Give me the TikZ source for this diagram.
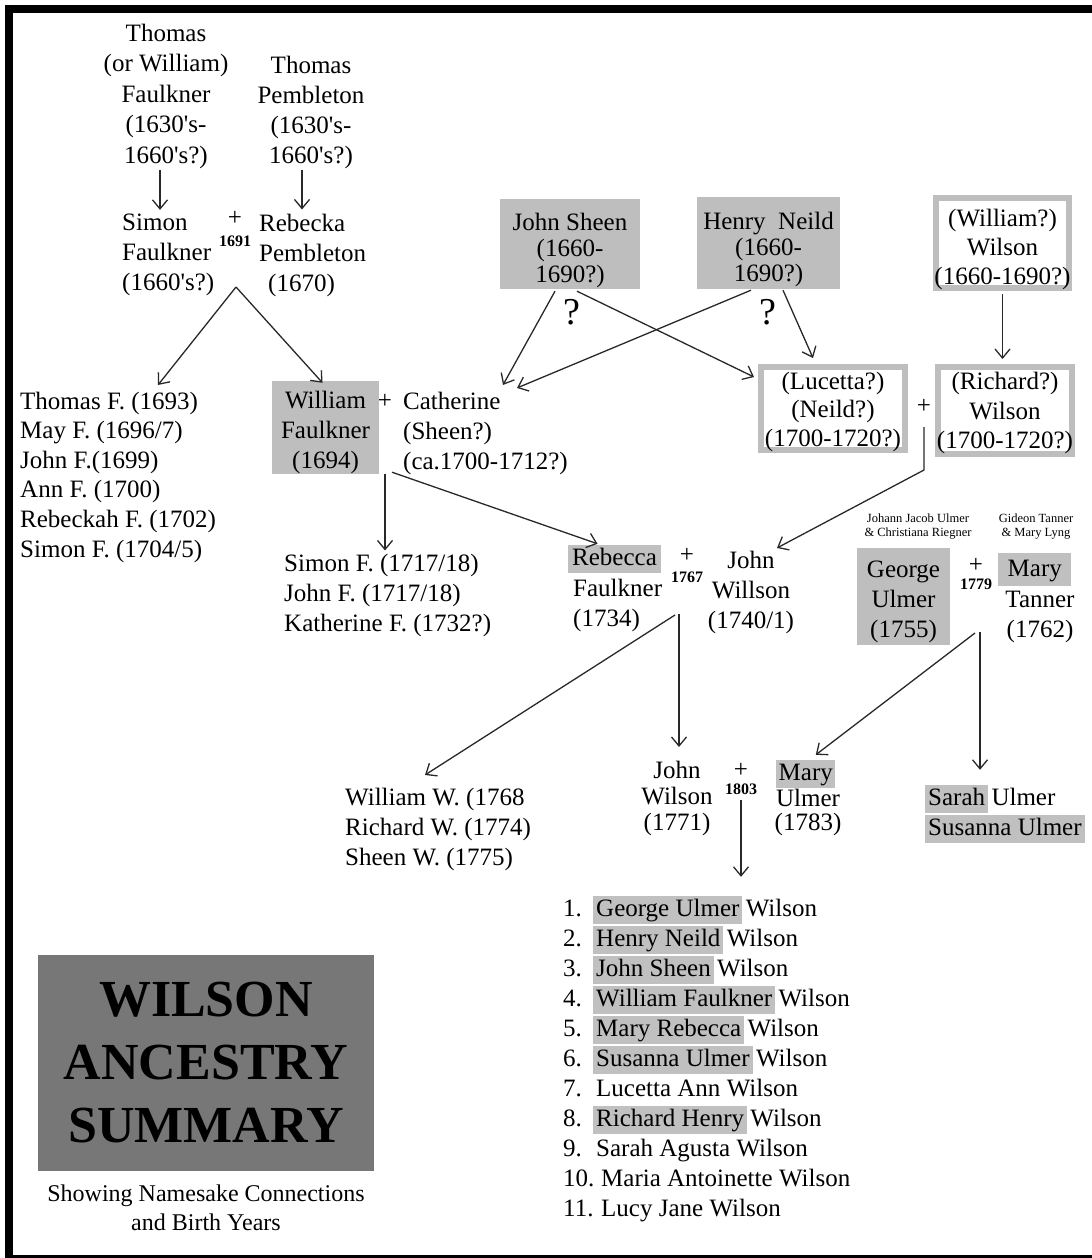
\documentclass[tikz,border=0pt]{standalone}
\usepackage{fontspec}
\setmainfont{Liberation Serif}
\usetikzlibrary{arrows.meta,calc}
\newcommand\aps{\textquotesingle}
\definecolor{boxgray}{RGB}{190,190,190}
\definecolor{hlgray}{RGB}{192,192,192}
\definecolor{titlegray}{RGB}{119,119,119}
\definecolor{linec}{RGB}{40,40,40}
\begin{document}
\begin{tikzpicture}[x=1pt,y=-1pt,
 txt/.style={font=\fontsize{25}{30}\selectfont, inner sep=1pt, align=center},
 pl/.style={font=\fontsize{25}{25}\selectfont, inner sep=0pt},
 yr/.style={font=\bfseries\fontsize{16}{16}\selectfont, inner sep=0pt},
 sm/.style={font=\fontsize{12.5}{14}\selectfont, inner sep=0pt, align=center},
 gbox/.style={fill=boxgray, inner sep=0pt},
 obox/.style={draw=boxgray, line width=6pt, fill=white, inner sep=0pt},
 hlf/.style={fill=hlgray},
 nof/.style={},
 lname/.style={font=\fontsize{25}{30}\selectfont, inner xsep=3pt, inner ysep=2pt, text height=18pt, text depth=5.5pt, anchor=base west},
 ar/.style={draw=linec, line width=1.3pt, -{Straight Barb[length=9pt,width=15pt]}},
 qm/.style={font=\fontsize{38}{38}\selectfont, inner sep=0pt}]
\useasboundingbox (0,0) rectangle (1092,1258);
% frame
\draw[line width=8pt] (9,1258) -- (9,9) -- (1092,9);
\draw[line width=3pt] (5,1256.5) -- (1092,1256.5);

% generation 1
\node[txt, font=\fontsize{25}{30.5}\selectfont] (tf) at (166,96) {Thomas\\(or William)\\Faulkner\\(1630\aps s-\\1660\aps s?)};
\node[txt, font=\fontsize{25}{30}\selectfont] (tp) at (311,112) {Thomas\\Pembleton\\(1630\aps s-\\1660\aps s?)};
\node[txt, align=left, anchor=west] (sf) at (121,255) {Simon\\Faulkner\\(1660\aps s?)};
\node[pl] (p1) at (235,218) {+};
\node[yr] (y1) at (235,241) {1691};
\node[txt, align=left, anchor=west] (rp) at (258,255) {Rebecka\\Pembleton\\\hspace*{9pt}(1670)};
\coordinate (m1) at (236,287);

% generation 2
\node[txt, font=\fontsize{25}{29.6}\selectfont, align=left, anchor=west] (lf) at (19,477) {Thomas F. (1693)\\May F. (1696/7)\\John F.(1699)\\Ann F. (1700)\\Rebeckah F. (1702)\\Simon F. (1704/5)};
\node[gbox, minimum width=107pt, minimum height=93pt] (wf) at (325.5,427.5) {};
\node[txt] (wft) at (325.5,432.5) {William\\Faulkner\\(1694)};
\node[pl] (p2) at (385,401) {+};
\node[txt, align=left, anchor=west] (ct) at (402,433) {Catherine\\(Sheen?)\\(ca.1700-1712?)};
\node[txt, align=left, anchor=west] (sf2) at (283,595) {Simon F. (1717/18)\\John F. (1717/18)\\Katherine F. (1732?)};
\coordinate (m2) at (p2 |- wf.south);

% Sheen / Neild / Wilson
\node[gbox, minimum width=140pt, minimum height=90pt] (js) at (570,244) {};
\node[txt, font=\fontsize{25}{26}\selectfont] (jst) at (570,250) {John Sheen\\(1660-\\1690?)};
\node[gbox, minimum width=143pt, minimum height=92pt] (hn) at (768.5,243) {};
\node[txt, font=\fontsize{25}{26}\selectfont] (hnt) at (768.5,249) {Henry\ \ Neild\\(1660-\\1690?)};
\node[qm] (q1) at (572,312) {?};
\node[qm] (q2) at (768,312) {?};
\node[obox, minimum width=133pt, minimum height=90pt] (ww) at (1002.5,243) {};
\node[txt, font=\fontsize{25}{29}\selectfont] (wwt) at (1002.5,249.5) {(William?)\\Wilson\\(1660-1690?)};
\node[obox, minimum width=144pt, minimum height=83pt] (ln) at (833,408.5) {};
\node[txt, font=\fontsize{25}{28.5}\selectfont] (lnt) at (833,411.5) {(Lucetta?)\\(Neild?)\\(1700-1720?)};
\node[obox, minimum width=134pt, minimum height=87pt] (rw) at (1005,410.5) {};
\node[txt, font=\fontsize{25}{29.5}\selectfont] (rwt) at (1005,413) {(Richard?)\\Wilson\\(1700-1720?)};
\node[pl] (p3) at (924,406) {+};
\coordinate (m3) at ($(p3)+(0,21)$);
\coordinate (b3) at ($(p3)+(0,64)$);

% generation 3
\node[lname, hlf, inner xsep=4pt] (rfh) at (568,565) {Rebecca};
\node[txt, align=left, anchor=west] (rf) at (572,605) {Faulkner\\(1734)};
\node[pl] (p4) at (687,555) {+};
\node[yr] (y4) at (687,577) {1767};
\node[txt] (jw) at (751,592) {John\\Willson\\(1740/1)};
\coordinate (m4) at ($(p4)+(-10,60)$);

\node[sm] (ju) at (918,527) {Johann Jacob Ulmer\\\& Christiana Riegner};
\node[sm] (gt) at (1036,527) {Gideon Tanner\\\& Mary Lyng};
\node[gbox, minimum width=93pt, minimum height=97pt] (gu) at (903.5,596.5) {};
\node[txt] (gut) at (903.5,601.5) {George\\Ulmer\\(1755)};
\node[pl] (p5) at (976,565) {+};
\node[yr] (y5) at (976,584) {1779};
\node[lname, hlf, inner xsep=9.5pt, inner ysep=4.75pt] (mth) at (998,576) {Mary};
\node[txt] (mt) at (1040,617) {Tanner\\(1762)};
\coordinate (m5) at ($(p5)+(2,67)$);

% generation 4
\node[txt, align=left, anchor=west] (wl) at (344,829) {William W. (1768\\Richard W. (1774)\\Sheen W. (1775)};
\node[txt, font=\fontsize{25}{26}\selectfont] (jw2) at (677,798) {John\\Wilson\\(1771)};
\node[pl] (p6) at (741,770) {+};
\node[yr] (y6) at (741,789) {1803};
\node[lname, hlf, inner xsep=2.5pt] (mu) at (776,780) {Mary};
\node[txt, font=\fontsize{25}{24}\selectfont] (mu2) at (808,812) {Ulmer\\(1783)};
\coordinate (m6) at ($(p6)+(0,30)$);
\node[lname, hlf] (sh) at (925,805) {Sarah};
\node[lname, inner xsep=0pt] (sh2) at ($(sh.base east)+(3,0)$) {Ulmer};
\node[lname, hlf] (su) at (925,835) {Susanna Ulmer};

% children list
\foreach \i/\nm/\st in {1/George Ulmer/hlf,2/Henry Neild/hlf,3/John Sheen/hlf,4/William Faulkner/hlf,5/Mary Rebecca/hlf,6/Susanna Ulmer/hlf,7/Lucetta Ann/nof,8/Richard Henry/hlf,9/Sarah Agusta/nof,10/Maria Antoinette/nof,11/Lucy Jane/nof}{
  \pgfmathsetmacro\yy{916+30*(\i-1)}
  \pgfmathsetmacro\xx{\i>9 ? 598 : 593}
  \node[lname, inner xsep=0pt] (n\i) at (563,\yy) {\i.};
  \node[lname, \st] (h\i) at (\xx,\yy) {\nm};
  \node[lname, inner xsep=0pt] (w\i) at ($(h\i.base east)+(3,0)$) {Wilson};
}

% title
\node[fill=titlegray, minimum width=336pt, minimum height=216pt, font=\bfseries\fontsize{52}{63}\selectfont, align=center, inner sep=0pt] (tt) at (206,1063) {WILSON\\ANCESTRY\\SUMMARY};
\node[txt, font=\fontsize{24}{29}\selectfont] (st) at (206,1208) {Showing Namesake Connections\\and Birth Years};

% connectors
\draw[ar] ($(tf.south)+(-6,0)$) -- ($(tf.south |- sf.north)+(-6,-3)$);
\draw[ar] ($(tp.south)+(-9,0)$) -- ($(tp.south |- rp.north)+(-9,-3)$);
\draw[ar] (m1) -- ($(lf.north west)+(139,-5.5)$);
\draw[ar] (m1) -- ($(wf.north)+(-3,2)$);
\draw[ar] (m2) -- ($(m2 |- sf2.north)+(0,-2)$);
\draw[ar] ($(m2)+(7,-2)$) -- ($(rfh.north)+(-17,-1)$);
\draw[ar] ($(js.south)+(-15,2)$) -- ($(ct.north west)+(101,-5.5)$);
\draw[ar] ($(js.south)+(7,2)$) -- ($(ln.north west)+(-4,13)$);
\draw[ar] ($(hn.south)+(-17.5,1)$) -- ($(ct.north west)+(115,-2.5)$);
\draw[ar] ($(hn.south)+(14.5,1)$) -- ($(ln.north)+(-20,-6)$);
\draw[ar] ($(ww.south)+(0,3)$) -- ($(ww.south |- rw.north)+(0,-5)$);
\draw[ar] (m3) -- (b3) -- ($(jw.north)+(26,-1.5)$);
\draw[ar] ($(m4)+(-2,0)$) -- ($(wl.north west)+(81,-11.5)$);
\draw[ar] ($(m4)+(2,-1)$) -- ($(m4 |- jw2.north)+(2,-12.5)$);
\draw[ar] ($(m5)+(-3,1)$) -- ($(mu.north)+(10,-5)$);
\draw[ar] ($(m5)+(2,0)$) -- ($(m5 |- sh.north)+(2,-15)$);
\draw[ar] (m6) -- ($(m6 |- h1.north)+(0,-19)$);
\end{tikzpicture}
\end{document}
